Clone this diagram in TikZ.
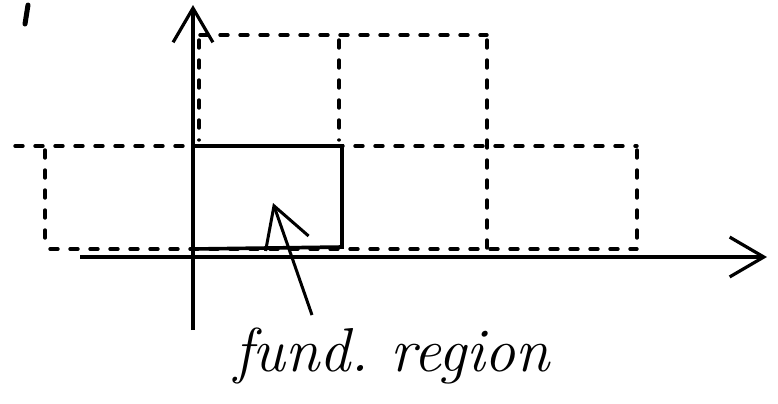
\documentclass[tikz,border=0pt]{standalone}
\usepackage{tikz}
\usetikzlibrary{
  arrows.meta,
  positioning
}
\definecolor{skInk}{HTML}{000000}
\tikzset{
  axisline/.style={-{Straight Barb[length=6mm, width=7mm, line width=1.6pt]}, line width=2pt, skInk},
  cellline/.style={line width=1.7pt, skInk, dashed, dash pattern=on 4pt off 6pt, line cap=round},
  fundline/.style={line width=1.8pt, skInk},
  pointer/.style={-{Straight Barb[length=7mm, width=8mm, line width=1.5pt]}, line width=1.5pt, skInk},
  tag/.style={font=\fontsize{31}{36}\selectfont\itshape, inner sep=0pt}
}

\begin{document}
\begin{tikzpicture}[x=0.5pt, y=-0.5pt]
  \useasboundingbox (0,0) rectangle (778,403);
  % tiling cells
  \draw[cellline] (200,35) -- (487,35);
  \draw[cellline] (199,40) -- (199,140);
  \draw[cellline] (339,40) -- (339,140);
  \draw[cellline] (487,40) -- (487,248);
  \draw[cellline] (15,146) -- (637,146);
  \draw[cellline] (45,150) -- (45,248);
  \draw[cellline] (637,150) -- (637,248);
  \draw[cellline] (50,249) -- (637,249);
  % stray mark
  \draw[line width=2.5pt, line cap=round] (28,5) -- (25,24);
  % fundamental region
  \draw[fundline] (193,146) -- (342,146) -- (342,247) -- (193,249);
  % axes
  \coordinate (xstart) at (80,257);
  \coordinate (xend) at (767,257);
  \coordinate (ystart) at (193,330);
  \coordinate (yend) at (193,5);
  \draw[axisline] (xstart) -- (xend);
  \draw[axisline] (ystart) -- (yend);
  % label
  \node[tag] (fund) at (392,356) {fund.\ region};
  \coordinate (fundtip) at (273,203);
  \draw[pointer] (312,315) -- (fundtip);
\end{tikzpicture}
\end{document}
